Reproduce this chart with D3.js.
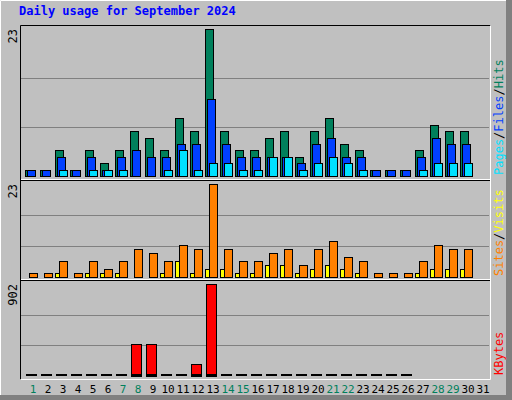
<!DOCTYPE html>
<html><head><meta charset="utf-8">
<script src="https://cdn.jsdelivr.net/npm/d3@7"></script>
<style>body{margin:0;background:#fff}text{font-family:"DejaVu Sans Mono",monospace}</style>
</head><body><svg id="c" width="512" height="400"></svg>
<script>
const days = d3.range(1, 32);
const weekend = [1, 7, 8, 14, 15, 21, 22, 28, 29];
const hits  = [1,1,4,1,4,2,4,7,6,4,9,7,23,7,4,4,6,7,3,7,9,5,4,1,1,1,4,8,7,7,0];
const files = [1,1,3,1,3,1,3,4,3,3,5,5,12,5,3,3,3,3,2,5,6,3,3,1,1,1,3,6,5,5,0];
const pages = [0,0,1,0,1,1,1,0,0,1,4,1,2,2,1,1,3,3,1,2,3,2,1,0,0,0,1,2,2,2,0];
const sites = [1,1,4,1,4,2,4,7,6,4,8,7,23,7,4,4,6,7,3,7,9,5,4,1,1,1,4,8,7,7,0];
const visits= [0,0,1,0,1,1,1,0,0,1,4,1,2,2,1,1,3,3,1,2,3,2,1,0,0,0,1,2,2,2,0];
const kbytes= [0,0,0,0,0,0,0,312,312,0,0,115,902,0,0,0,0,0,0,0,0,0,0,0,0,0,0,0,0,0,0];

const svg = d3.select('#c');
svg.append('rect').attr('width', 512).attr('height', 400).attr('fill', '#c0c0c0');
// bevel
svg.append('path').attr('d', 'M0.5,399.5V0.5H511.5').attr('stroke', '#fff').attr('fill', 'none');
svg.append('rect').attr('x', 506).attr('y', 0).attr('width', 6).attr('height', 400).attr('fill', '#808080');
svg.append('rect').attr('x', 0).attr('y', 395).attr('width', 512).attr('height', 5).attr('fill', '#808080');

svg.append('text').attr('x', 19).attr('y', 15).attr('fill', '#0000ff')
    .attr('font-weight', 'bold').attr('font-size', 12).text('Daily usage for September 2024');

const x = d3.scaleBand().domain(days).range([25, 490]);

// panel frame
svg.append('path').attr('d', 'M20.5,379.5V25.5H490.5').attr('stroke', '#000').attr('fill', 'none');
svg.append('path').attr('d', 'M20.5,379.5H490.5V25.5').attr('stroke', '#fff').attr('fill', 'none');
svg.append('line').attr('x1', 21).attr('x2', 490).attr('y1', 179.5).attr('y2', 179.5).attr('stroke', '#fff');
svg.append('line').attr('x1', 21).attr('x2', 490).attr('y1', 180.5).attr('y2', 180.5).attr('stroke', '#000');
svg.append('line').attr('x1', 21).attr('x2', 490).attr('y1', 279.5).attr('y2', 279.5).attr('stroke', '#fff');
svg.append('line').attr('x1', 21).attr('x2', 490).attr('y1', 280.5).attr('y2', 280.5).attr('stroke', '#000');

function panel(range, max, label, series, legend) {
    const y = d3.scaleLinear().domain([0, max]).range(range);
    [1 / 3, 2 / 3].forEach(f => {
        svg.append('line').attr('x1', 21).attr('x2', 489)
            .attr('y1', Math.round(y(max * f)) + 0.5).attr('y2', Math.round(y(max * f)) + 0.5)
            .attr('stroke', '#808080');
    });
    svg.append('text').attr('transform', `translate(17,${range[1]}) rotate(-90)`)
        .attr('text-anchor', 'end').attr('font-size', 12).text(label);
    series.forEach(s => {
        svg.append('g').selectAll('rect').data(s.values).join('rect')
            .attr('x', (d, i) => x(i + 1) + s.off + 0.5)
            .attr('width', s.w)
            .attr('y', d => Math.round(y(d)) + 0.5)
            .attr('height', d => Math.max(0, range[0] - Math.round(y(d))))
            .attr('fill', s.color).attr('stroke', '#000')
            .style('display', d => d > 0 ? null : 'none');
    });
    // legend, rotated, read bottom to top
    const t = svg.append('text').attr('transform', `translate(503,${range[0] - 1}) rotate(-90)`)
        .attr('font-size', 12);
    legend.forEach((l, i) => {
        if (i) t.append('tspan').attr('fill', '#000').text('/');
        t.append('tspan').attr('fill', l[1]).text(l[0]);
    });
    return y;
}

panel([176, 29], 23, '23', [
    { values: hits, color: '#00805c', off: 0, w: 8 },
    { values: files, color: '#0040ff', off: 2, w: 8 },
    { values: pages, color: '#00e0ff', off: 4, w: 8 }
], [['Pages', '#00e0ff'], ['Files', '#0040ff'], ['Hits', '#00805c']]);

panel([277, 184], 23, '23', [
    { values: sites, color: '#ff8000', off: 0, w: 0 },
    { values: visits, color: '#ffff00', off: 0, w: 4 },
    { values: sites, color: '#ff8000', off: 4, w: 8 }
].slice(1), [['Sites', '#ff8000'], ['Visits', '#ffff00']]);

const yk = panel([376, 284], 902, '902', [
    { values: kbytes, color: '#ff0000', off: 1, w: 10 }
], [['KBytes', '#ff0000']]);

// dashes for empty kbytes days
svg.append('g').selectAll('rect').data(kbytes.slice(0, 30)).join('rect')
    .filter(d => d === 0)
    .attr('x', (d, i) => x(i + 1) + 1).attr('width', 11)
    .attr('y', 374).attr('height', 2).attr('fill', '#000');

svg.append('g').selectAll('text').data(days).join('text')
    .attr('x', d => x(d) + 8).attr('y', 393).attr('text-anchor', 'middle')
    .attr('font-size', 11)
    .attr('fill', d => weekend.includes(d) ? '#00805c' : '#000')
    .text(d => d);
</script></body></html>
